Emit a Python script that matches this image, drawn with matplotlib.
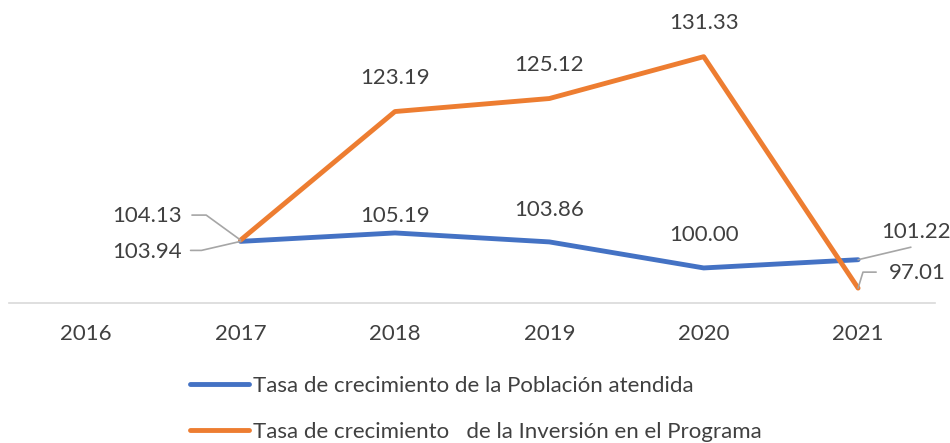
import matplotlib.pyplot as plt
from matplotlib.lines import Line2D

plt.rcParams['font.family'] = ['Lato', 'DejaVu Sans']

years = ['2016', '2017', '2018', '2019', '2020', '2021']
poblacion = [None, 103.94, 105.19, 103.86, 100.00, 101.22]
inversion = [None, 104.13, 123.19, 125.12, 131.33, 97.01]
name_pob = 'Tasa de crecimiento de la Población atendida'
name_inv = 'Tasa de crecimiento   de la Inversión en el Programa'

blue = '#4472C4'
orange = '#ED7D31'
txt = '#404040'
grey = '#A6A6A6'
fs = 16

fig = plt.figure(figsize=(9.5, 4.43), dpi=100)
ax = fig.add_axes([0.0095, 0.316, 0.975, 0.612])

xs = list(range(len(years)))
px = [x for x, v in zip(xs, poblacion) if v is not None]
pv = [v for v in poblacion if v is not None]
ix = [x for x, v in zip(xs, inversion) if v is not None]
iv = [v for v in inversion if v is not None]

ax.plot(px, pv, color=blue, lw=3.5, solid_capstyle='round')
ax.plot(ix, iv, color=orange, lw=3.5, solid_capstyle='round')

ax.set_xlim(-0.5, len(years) - 0.5)
ax.set_ylim(94.8, 135)
ax.set_xticks(xs)
ax.set_xticklabels(years, fontsize=fs, color=txt)
ax.tick_params(axis='x', length=0, pad=15)
ax.set_yticks([])
for s in ['top', 'left', 'right']:
    ax.spines[s].set_visible(False)
ax.spines['bottom'].set_color('#D9D9D9')
ax.spines['bottom'].set_linewidth(1.2)


def label(x, y, s, dx, dy, ha='center'):
    ax.annotate(s, (x, y), xytext=(dx, dy), textcoords='offset points',
                ha=ha, va='center', fontsize=fs, color=txt)


def leader(x, y, dx, dy, conn='arc3'):
    ax.annotate('', (x, y), xytext=(dx, dy), textcoords='offset points',
                arrowprops=dict(arrowstyle='-', color=grey, lw=1.2,
                                shrinkA=0, shrinkB=0, connectionstyle=conn))


# labels above points
for i, off in [(2, 24), (3, 24), (4, 24)]:
    label(i, inversion[i], f'{inversion[i]:.2f}', 0, off)
for i, off in [(2, 12), (3, 23), (4, 24)]:
    label(i, poblacion[i], f'{poblacion[i]:.2f}', 0, off)

# labels moved aside, with leader lines
label(1, inversion[1], f'{inversion[1]:.2f}', -42, 17, ha='right')
leader(1, inversion[1], -35, 18, 'angle,angleA=0,angleB=-36,rad=0')
label(1, poblacion[1], f'{poblacion[1]:.2f}', -42.5, -8, ha='right')
leader(1, poblacion[1], -36, -6.5, 'angle,angleA=0,angleB=13,rad=0')
label(5, poblacion[5], f'{poblacion[5]:.2f}', 17, 20, ha='left')
leader(5, poblacion[5], 38, 9)
label(5, inversion[5], f'{inversion[5]:.2f}', 22, 11, ha='left')
leader(5, inversion[5], 13, 11.5, 'angle,angleA=0,angleB=73,rad=0')

handles = [Line2D([], [], color=blue, lw=3.5, solid_capstyle='round'),
           Line2D([], [], color=orange, lw=3.5, solid_capstyle='round')]
fig.legend(handles, [name_pob, name_inv], loc='upper left',
           bbox_to_anchor=(190 / 950, 1 - 376 / 443), frameon=False, fontsize=fs,
           handlelength=2.65, handletextpad=0.2, labelspacing=1.15, labelcolor=txt,
           borderaxespad=0, borderpad=0)

fig.savefig('out.png', dpi=100)
